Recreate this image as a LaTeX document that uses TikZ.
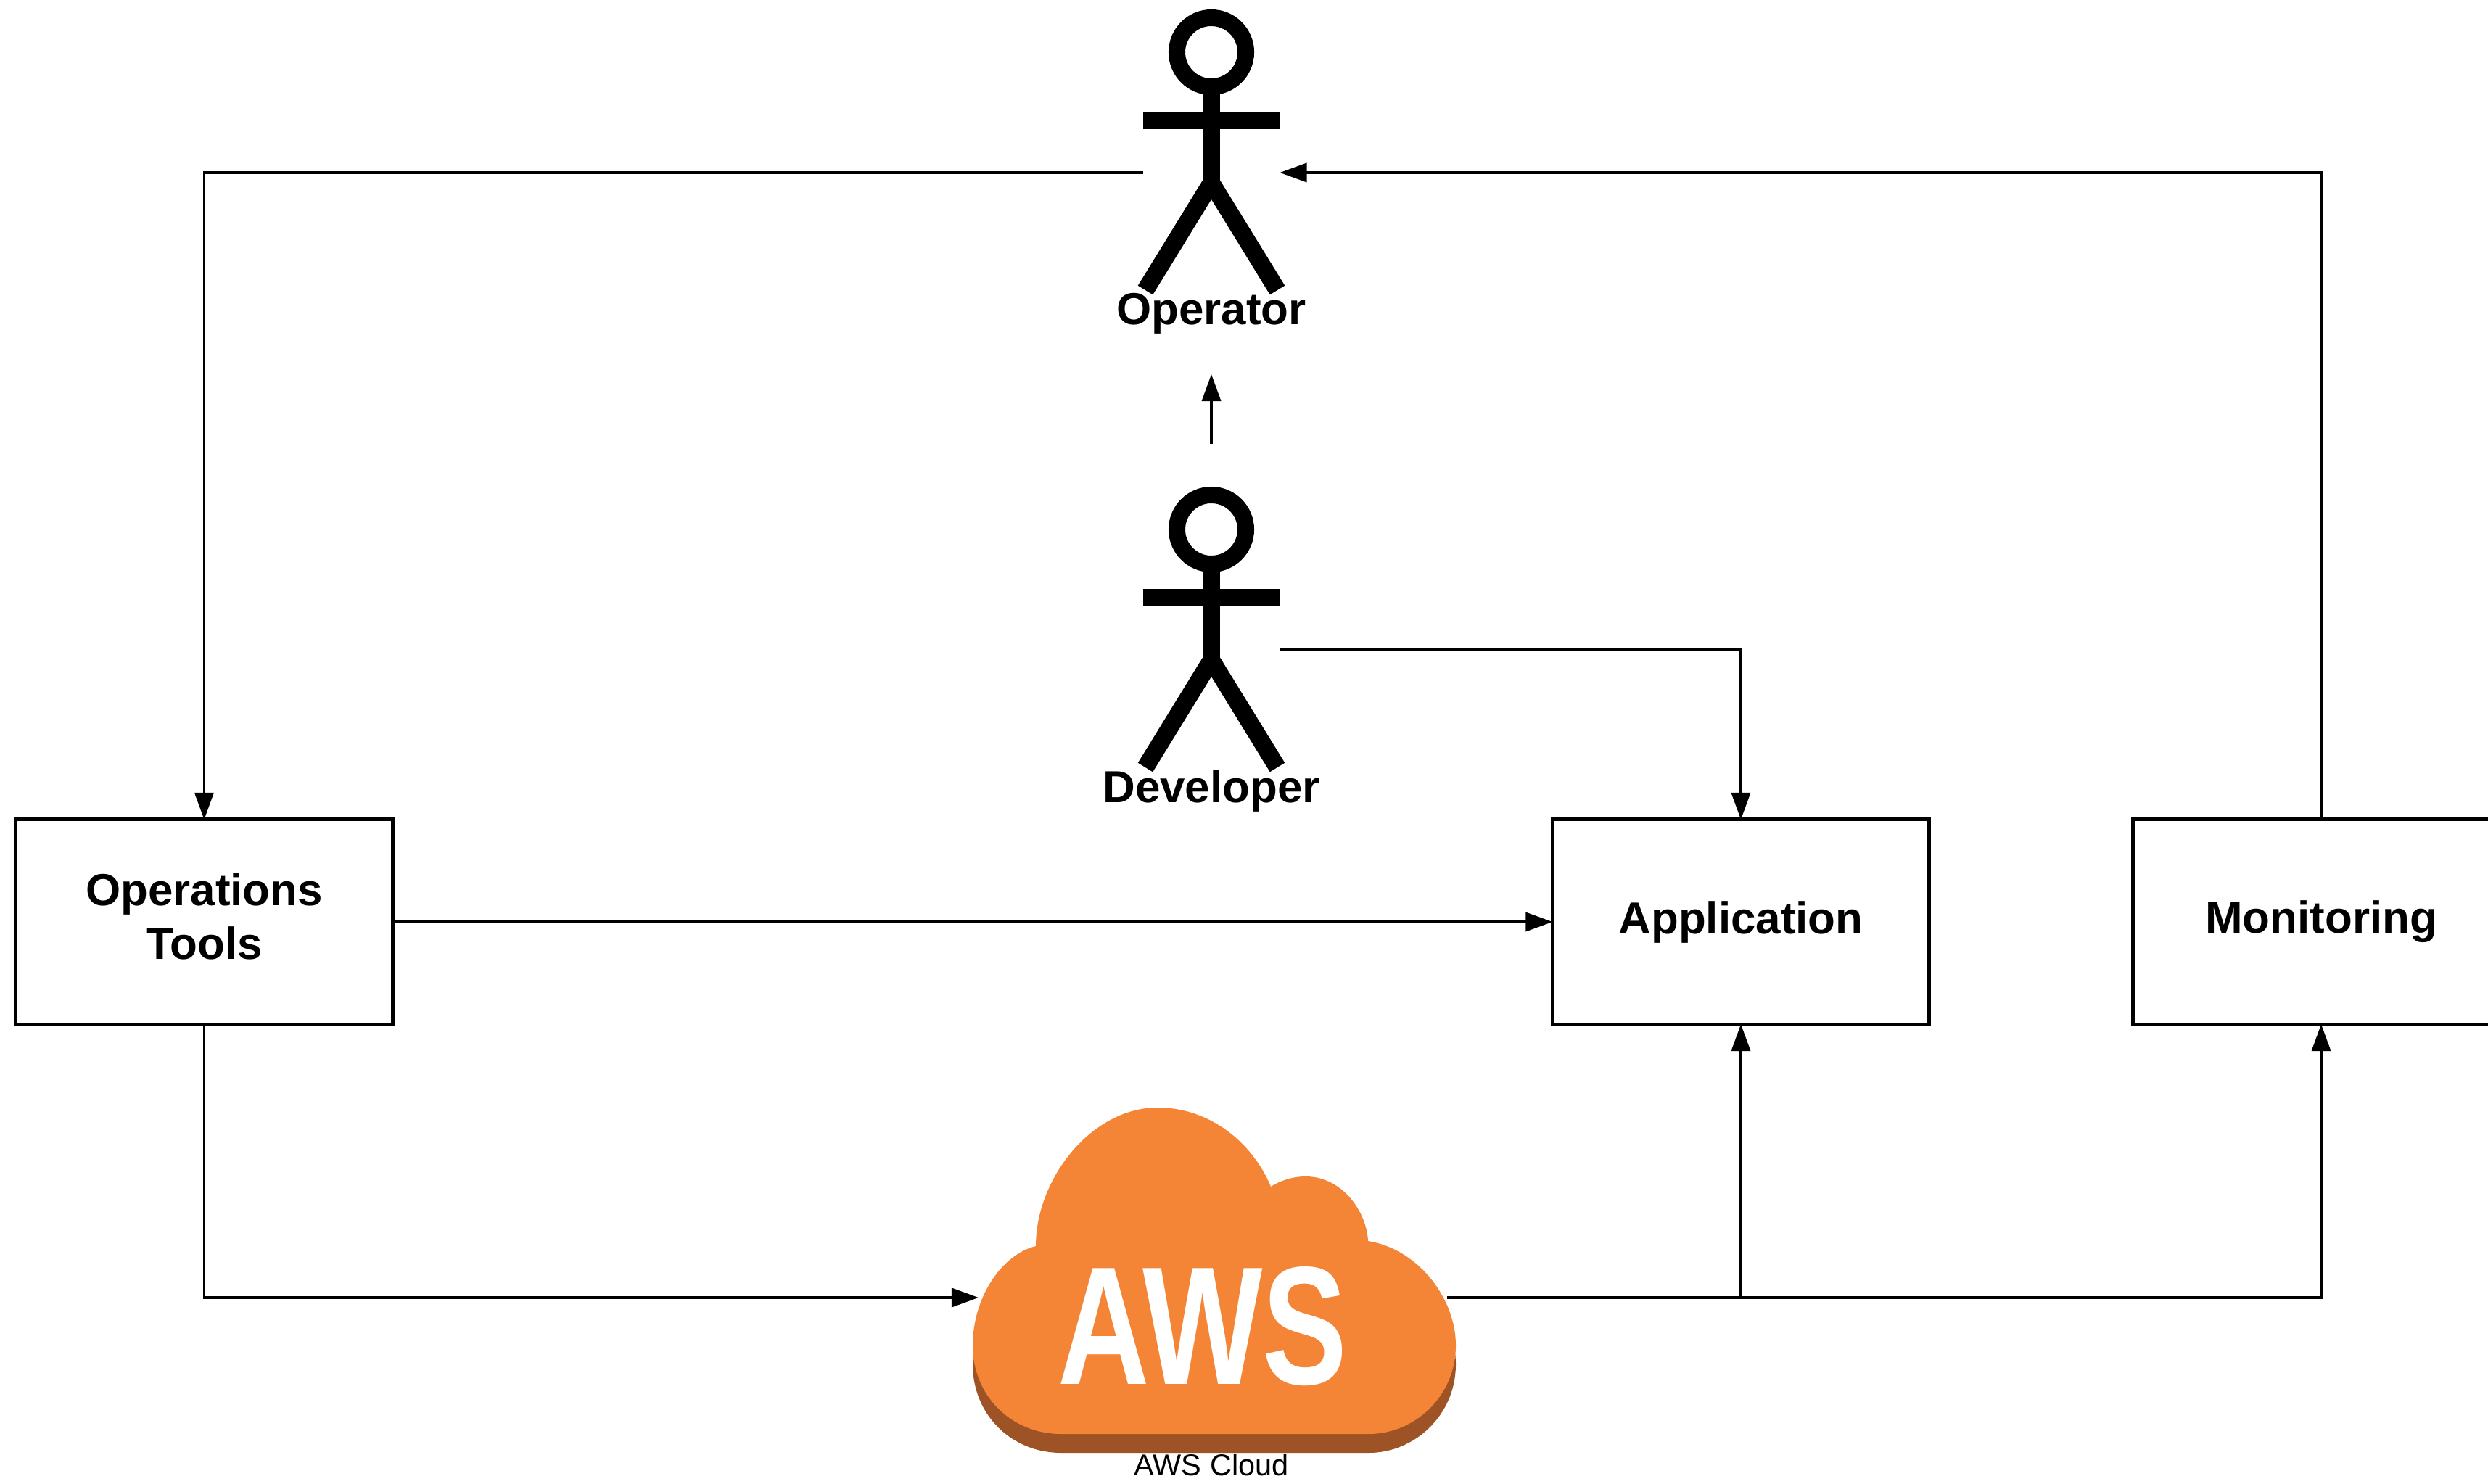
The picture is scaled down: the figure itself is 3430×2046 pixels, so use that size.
\documentclass[tikz,border=0pt]{standalone}
\usepackage{fontspec}
\setmainfont{Liberation Sans}
\usetikzlibrary{arrows.meta,positioning}

\definecolor{awsorange}{HTML}{F58536}
\definecolor{awsdark}{HTML}{9D5325}

\newcommand{\cloudoutline}{
(1428,1718) .. controls (1428,1625) and (1505,1527) .. (1596,1527)
.. controls (1665,1527) and (1725,1572) .. (1752,1636)
.. controls (1768,1626) and (1785,1622) .. (1800,1622)
.. controls (1850,1622) and (1884,1670) .. (1886,1711)
.. controls (1955,1722) and (2007,1790) .. (2007,1855)
.. controls (2007,1925) and (1950,1977) .. (1887,1977)
-- (1463,1977)
.. controls (1395,1977) and (1341,1925) .. (1341,1855)
.. controls (1341,1790) and (1380,1730) .. (1428,1718) -- cycle
}

\tikzset{
block/.style={rectangle, draw=black, line width=0.05cm, outer sep=0pt,
minimum width=5.19cm, minimum height=2.82cm, align=center,
font=\fontsize{17.6}{21}\bfseries\selectfont},
conn/.style={line width=0.035cm, >={Triangle[length=3.7mm,width=2.6mm]}},
actor/.pic={
\draw[line width=0.23cm] (0,72) circle[radius=0.475cm];
\draw[line width=0.24cm] (-94.5,166) -- (94.5,166);
\draw[line width=0.24cm] (0,115) -- (0,252);
\draw[line width=0.24cm, miter limit=10] (-91,400) -- (0,252) -- (91,400);
\node[font=\fontsize{17.6}{21}\bfseries\selectfont] (-label) at (0,432) {#1};
\coordinate (-west) at (-94.5,238);
\coordinate (-east) at (94.5,238);
\coordinate (-foot) at (0,516);
\coordinate (-top) at (0,-46);
}
}

\begin{document}
\begin{tikzpicture}[x=0.01cm,y=-0.01cm]
\path[use as bounding box, fill=white] (0,0) rectangle (3430,2046);

% actors
\pic (opr) at (1670,0) {actor={Operator}};
\pic (dev) at (1670,658) {actor={Developer}};

% boxes
\node[block, text depth=0.16cm] at (281.5,1271) (tools) {Operations\\Tools};
\node[block] at (2400,1271) (app) {Application};
\node[block] at (3200,1271) (mon) {Monitoring};

% cloud
\fill[awsdark, yshift=-0.26cm] \cloudoutline;
\fill[awsorange] \cloudoutline;
\node[white, inner sep=0pt, font=\fontsize{66}{66}\bfseries\selectfont] at (1658,1829) (awslogo) {\scalebox{0.755}[1]{AWS}};
\node[inner sep=0pt, font=\fontsize{11.8}{14}\selectfont] at (1670,2020) (awslabel) {AWS Cloud};
\coordinate (cloudw) at (1349,1789);
\coordinate (cloude) at (1995,1789);
\coordinate (split) at (app.south |- cloude);

\draw[conn,->] (opr-west) -| (tools.north);
\draw[conn,->] (mon.north) |- (opr-east);
\draw[conn,->] (dev-east) -| (app.north);
\draw[conn,->] (dev-top) -- (opr-foot);
\draw[conn,->] (tools.east) -- (app.west);
\draw[conn,->] (tools.south) |- (cloudw);
\draw[conn,->] (cloude) -| (mon.south);
\draw[conn,->] (split) -- (app.south);

\end{tikzpicture}
\end{document}
